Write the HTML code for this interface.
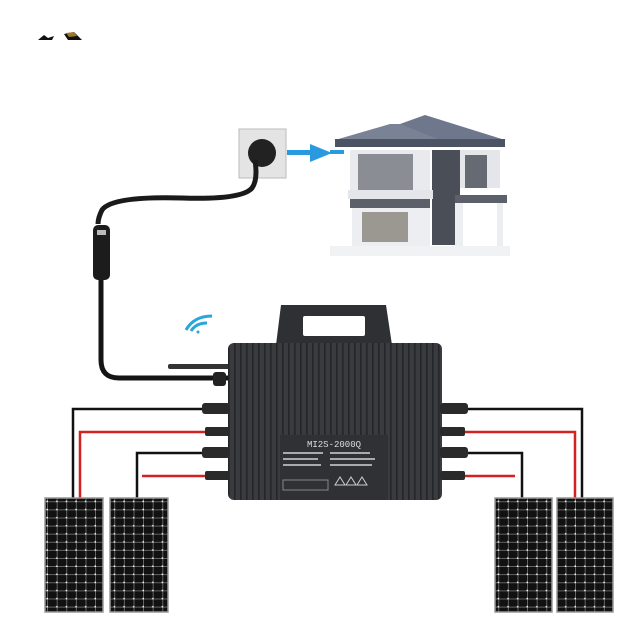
<!DOCTYPE html>
<html><head><style>html,body{margin:0;padding:0;background:#fff}svg{display:block}</style></head>
<body>
<svg width="640" height="640" viewBox="0 0 640 640" xmlns="http://www.w3.org/2000/svg">
<defs>
<pattern id="cells" width="9.6" height="8.1" patternUnits="userSpaceOnUse">
<rect width="9.6" height="8.1" fill="#111"/>
<rect x="8.8" width="0.8" height="8.1" fill="#777"/>
<rect y="7.3" width="9.6" height="0.8" fill="#777"/>
<circle cx="8.9" cy="7.4" r="1" fill="#eee"/>
</pattern>
<pattern id="fins" width="6" height="10" patternUnits="userSpaceOnUse">
<rect width="6" height="10" fill="#3a3b3e"/>
<rect width="1.6" height="10" fill="#25262a"/>
</pattern>
</defs>
<path d="M38 40 l6 -5 l4 3 l6 -2 l-2 4 z" fill="#111"/>
<path d="M64 34 l10 -2 l8 8 l-14 0 z" fill="#111"/>
<path d="M66 33 l8 -1 l3 4 l-8 1z" fill="#a07a2a"/>
<rect x="239" y="129" width="47" height="49" fill="#e4e4e4" stroke="#bbb"/>
<circle cx="262" cy="153" r="14" fill="#222"/>
<path d="M255 160 q3 20 -3 28 q-10 12 -70 10 q-70 -2 -80 12 q-4 8 -4 14" fill="none" stroke="#1a1a1a" stroke-width="5"/>
<rect x="287" y="150" width="30" height="5" fill="#2a9ae0"/>
<path d="M310 144 l22 9 l-22 9z" fill="#2a9ae0"/>
<rect x="330" y="150" width="14" height="4" fill="#2a9ae0"/>
<!-- house roofs -->
<path d="M335 140 L390 124 L440 124 L442 140 Z" fill="#7a8296"/>
<path d="M400 124 L425 115 L505 140 L440 140 Z" fill="#6e778c"/>
<rect x="335" y="139" width="170" height="8" fill="#4c5464"/>
<rect x="350" y="150" width="80" height="42" fill="#e8eaee"/>
<rect x="358" y="154" width="55" height="36" fill="#8a8e94"/>
<rect x="432" y="150" width="28" height="95" fill="#4a4e56"/>
<rect x="460" y="150" width="40" height="38" fill="#e4e6ea"/>
<rect x="465" y="155" width="22" height="33" fill="#666a72"/>
<rect x="348" y="190" width="85" height="9" fill="#e4e6ea"/>
<rect x="350" y="199" width="80" height="9" fill="#5c606a"/>
<rect x="352" y="208" width="78" height="40" fill="#eceef2"/>
<rect x="362" y="212" width="46" height="30" fill="#9a9890"/>
<rect x="455" y="195" width="52" height="8" fill="#5c606a"/>
<rect x="455" y="203" width="8" height="45" fill="#eceef2"/>
<rect x="497" y="203" width="6" height="45" fill="#eceef2"/>
<rect x="330" y="246" width="180" height="10" fill="#f1f2f4"/>
<rect x="93" y="225" width="17" height="55" rx="5" fill="#1c1c1c"/>
<rect x="97" y="230" width="9" height="5" fill="#bbb"/>
<path d="M101 280 L101 360 q0 18 18 18 L230 378" fill="none" stroke="#151515" stroke-width="5"/>
<path d="M186 330 q8 -14 26 -14" stroke="#2aa6d8" stroke-width="3" fill="none"/>
<path d="M191 331 q5 -8 16 -8" stroke="#2aa6d8" stroke-width="3" fill="none"/>
<circle cx="198" cy="332" r="1.5" fill="#2aa6d8"/>
<rect x="168" y="364" width="62" height="5" rx="2" fill="#333"/>
<rect x="213" y="372" width="13" height="14" rx="3" fill="#222"/>
<path d="M276 345 L281 305 L386 305 L392 345 Z" fill="#2f3034"/>
<rect x="303" y="316" width="62" height="20" rx="2" fill="#fff"/>
<rect x="228" y="343" width="214" height="157" rx="6" fill="url(#fins)"/>
<rect x="280" y="435" width="108" height="65" fill="#303135"/>
<text x="334" y="447" font-family="Liberation Mono, monospace" font-size="9" fill="#ddd" text-anchor="middle">MI2S-2000Q</text>
<g fill="#aaa"><rect x="283" y="452" width="40" height="2"/><rect x="283" y="458" width="35" height="2"/><rect x="283" y="464" width="38" height="2"/><rect x="330" y="452" width="40" height="2"/><rect x="330" y="458" width="45" height="2"/><rect x="330" y="464" width="42" height="2"/></g>
<rect x="283" y="480" width="45" height="10" fill="none" stroke="#888"/>
<path d="M335 485 l5 -8 l5 8z M346 485 l5 -8 l5 8z M357 485 l5 -8 l5 8z" fill="none" stroke="#ccc"/>
<g fill="none" stroke-width="2.5">
<path d="M205 409 H73 V498" stroke="#111"/>
<path d="M205 432 H80 V498" stroke="#d42020"/>
<path d="M205 453 H137 V498" stroke="#111"/>
<path d="M205 476 H142" stroke="#d42020"/>
<path d="M460 409 H582 V498" stroke="#111"/>
<path d="M460 432 H575 V498" stroke="#d42020"/>
<path d="M460 453 H522 V498" stroke="#111"/>
<path d="M460 476 H515" stroke="#d42020"/>
</g>
<g fill="#2a2a2a">
<rect x="202" y="403" width="28" height="11" rx="3"/><rect x="205" y="427" width="25" height="9" rx="2"/>
<rect x="202" y="447" width="28" height="11" rx="3"/><rect x="205" y="471" width="25" height="9" rx="2"/>
<rect x="440" y="403" width="28" height="11" rx="3"/><rect x="440" y="427" width="25" height="9" rx="2"/>
<rect x="440" y="447" width="28" height="11" rx="3"/><rect x="440" y="471" width="25" height="9" rx="2"/>
</g>
<g stroke="#999" stroke-width="1.5">
<rect x="45" y="498" width="58" height="114" fill="url(#cells)"/>
<rect x="110" y="498" width="58" height="114" fill="url(#cells)"/>
<rect x="495" y="498" width="57" height="114" fill="url(#cells)"/>
<rect x="557" y="498" width="56" height="114" fill="url(#cells)"/>
</g>
</svg>
</body></html>
